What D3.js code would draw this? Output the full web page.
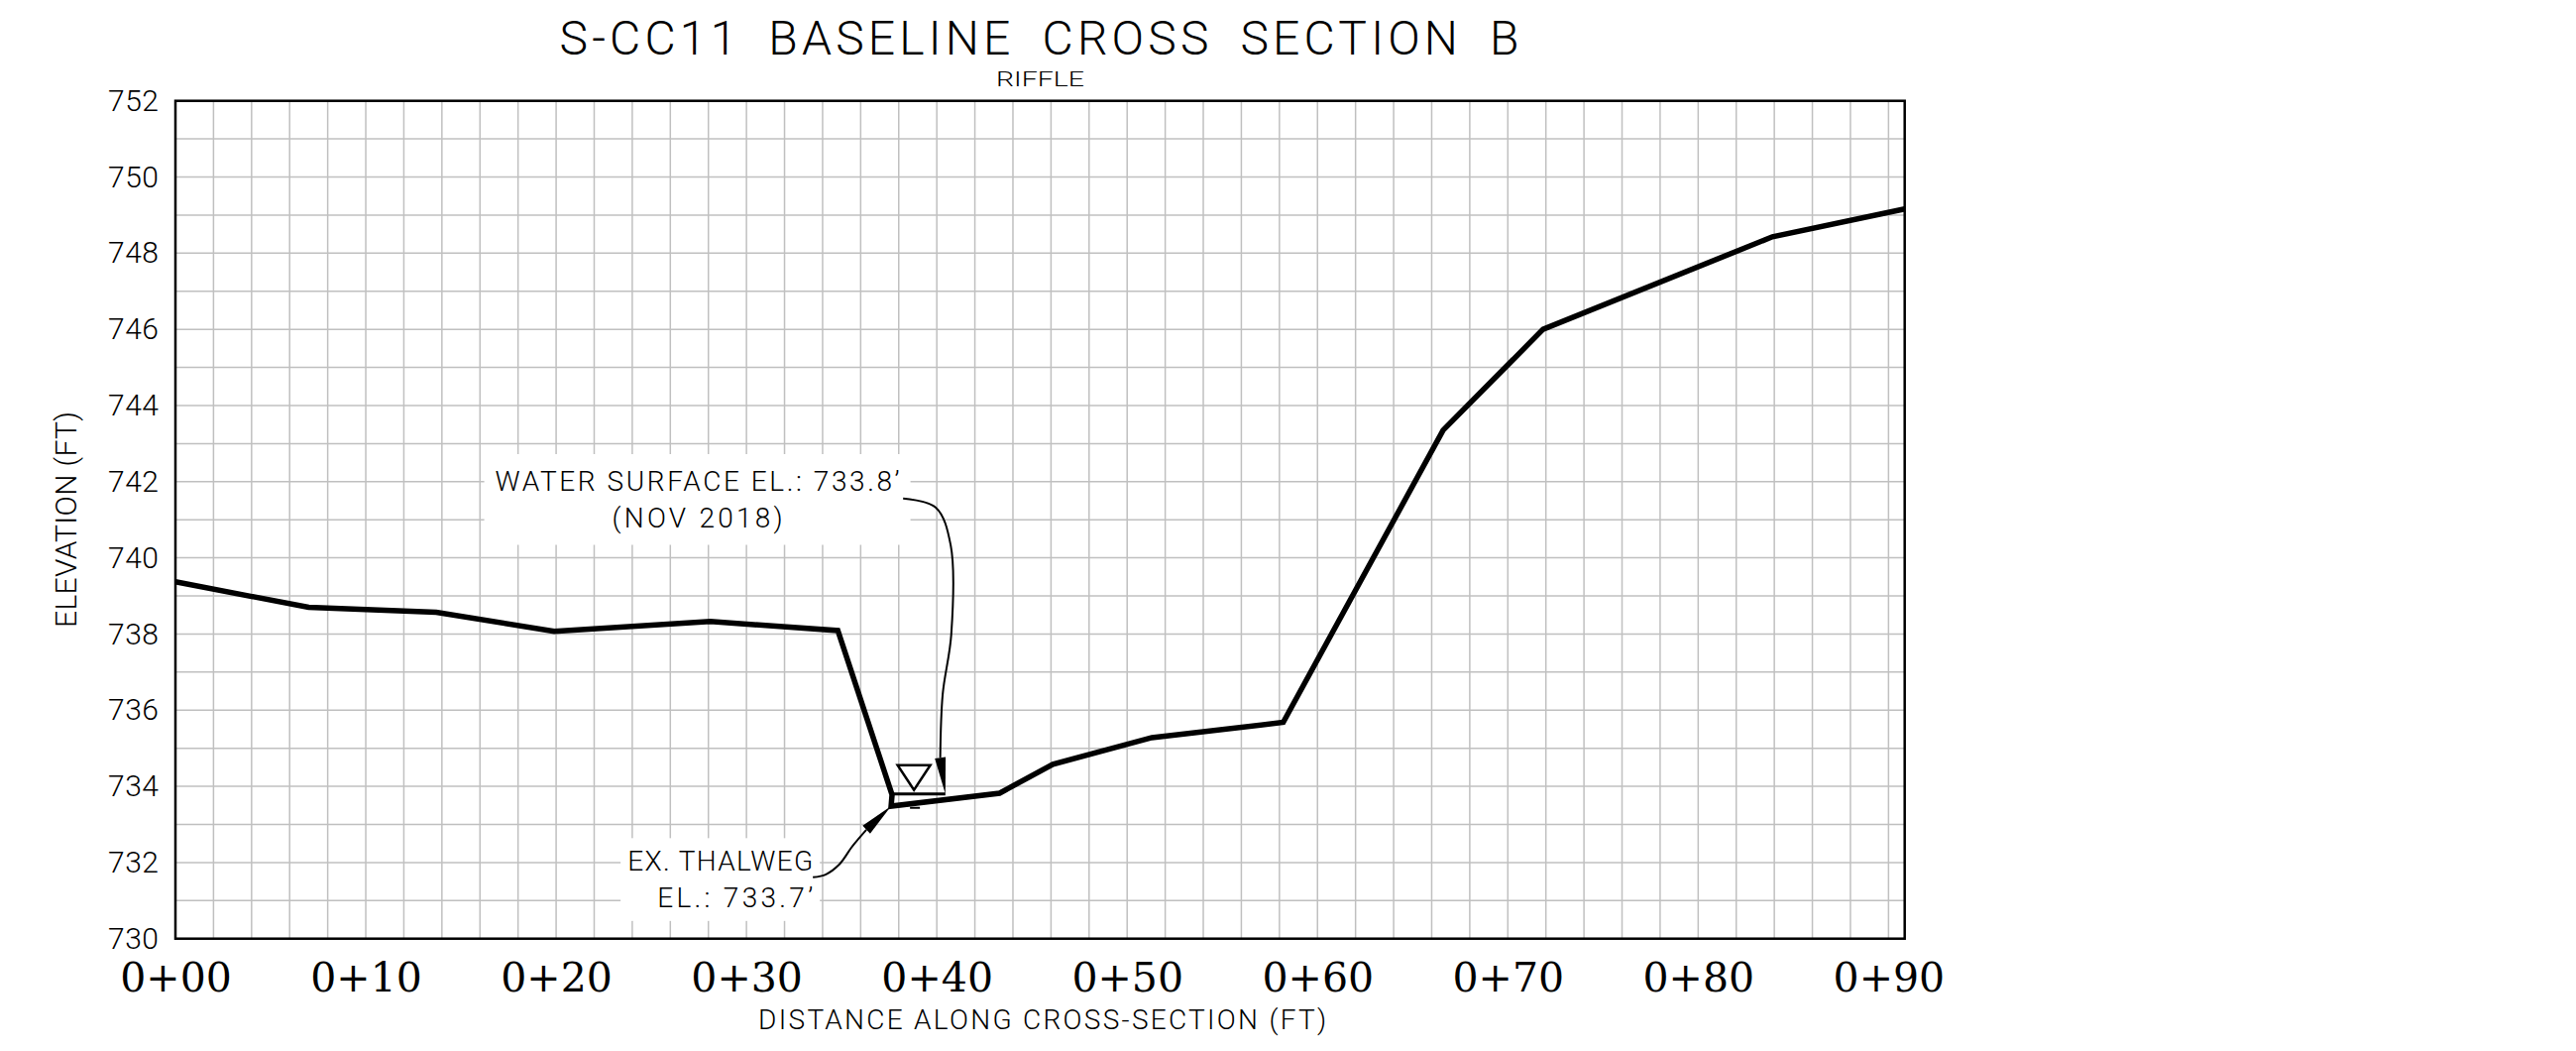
<!DOCTYPE html>
<html>
<head>
<meta charset="utf-8">
<script src="https://cdn.jsdelivr.net/npm/d3@7"></script>
<style>
  body { margin: 0; background: #fff; }
  svg { display: block; }
  .txt { font-family: Roboto, "Liberation Sans", Arial, sans-serif; font-weight: 300; fill: #000; }
</style>
</head>
<body>
<svg id="chart" width="2599" height="1060"></svg>
<script>
// surveyed ground points: station (ft) and elevation (ft)
var stations   = [0, 7.0, 13.7, 19.9, 28.1, 34.8, 37.65, 37.6, 43.3, 46.1, 51.3, 58.2, 66.6, 71.85, 83.9, 90.85];
var elevations = [739.37, 738.70, 738.57, 738.07, 738.33, 738.09, 733.78, 733.48, 733.82, 734.58, 735.28, 735.68, 743.35, 746.0, 748.43, 749.16];

var xTicks = [0, 10, 20, 30, 40, 50, 60, 70, 80, 90];
var xTickLabels = ["0+00", "0+10", "0+20", "0+30", "0+40", "0+50", "0+60", "0+70", "0+80", "0+90"];
var yTicks = [730, 732, 734, 736, 738, 740, 742, 744, 746, 748, 750, 752];

// water surface and thalweg
var wsElev = 733.8;
var wsStations = [37.65, 40.45];
var wsSymbolStation = 38.8;
var thalwegStation = 37.6, thalwegElev = 733.48;

// annotation leaders (station, elevation)
var wsLeader = [[38.23, 741.56], [39.95, 741.32], [40.73, 740.33], [40.76, 737.99], [40.31, 736.42], [40.18, 734.75]];
var thalwegLeader = [[33.49, 731.61], [34.18, 731.69], [34.88, 731.95], [35.57, 732.43], [36.30, 732.86]];

var svg = d3.select("#chart");

var x = d3.scaleLinear().domain([0, d3.max(stations)]).range([177, 1921.7]);
var y = d3.scaleLinear().domain([730, 752]).range([946.7, 101.7]);

// grid
var grid = svg.append("g")
    .attr("stroke", "#c0c0c0")
    .attr("stroke-width", 1.5);

grid.selectAll(".vgrid")
    .data(d3.range(2, 91, 2))
  .enter().append("line")
    .attr("x1", function(d) { return x(d); })
    .attr("x2", function(d) { return x(d); })
    .attr("y1", y(730))
    .attr("y2", y(752));

grid.selectAll(".hgrid")
    .data(d3.range(731, 752, 1))
  .enter().append("line")
    .attr("y1", function(d) { return y(d); })
    .attr("y2", function(d) { return y(d); })
    .attr("x1", x(0))
    .attr("x2", x.range()[1]);

// axes
var yAxis = svg.append("g")
    .attr("transform", "translate(" + x(0) + ",0)")
    .call(d3.axisLeft(y).tickValues(yTicks).tickSize(0).tickPadding(17));
yAxis.select(".domain").remove();
yAxis.selectAll("text")
    .attr("class", "txt")
    .attr("textLength", 51)
    .style("font-size", "30px");

var xAxis = svg.append("g")
    .attr("transform", "translate(0," + y(730) + ")")
    .call(d3.axisBottom(x).tickValues(xTicks)
      .tickFormat(function(d, i) { return xTickLabels[i]; })
      .tickSize(0).tickPadding(24));
xAxis.select(".domain").remove();
xAxis.selectAll("text")
    .style("font-family", "'DejaVu Serif', serif")
    .style("font-size", "41px")
    .attr("fill", "#000");

// frame
svg.append("rect")
    .attr("x", x(0))
    .attr("y", y(752))
    .attr("width", x.range()[1] - x(0))
    .attr("height", y(730) - y(752))
    .attr("fill", "none")
    .attr("stroke", "#000")
    .attr("stroke-width", 2.5);

// labels with white boxes behind them
function noteBlock(lines, px, py, anchor, pad) {
  var g = svg.append("g");
  var box = g.append("rect").attr("fill", "#fff");
  lines.forEach(function(l, i) {
    g.append("text")
        .attr("class", "txt")
        .attr("x", px)
        .attr("y", py + i * 36.5)
        .attr("text-anchor", anchor)
        .attr("textLength", l[1])
        .attr("lengthAdjust", "spacing")
        .style("font-size", "28px")
        .text(l[0]);
  });
  var bb = g.node().getBBox();
  box.attr("x", bb.x - pad).attr("y", bb.y - pad)
     .attr("width", bb.width + 2 * pad).attr("height", bb.height + 2 * pad);
}

noteBlock([["WATER SURFACE EL.: 733.8\u2019", 408], ["(NOV 2018)", 172]],
          x(27.42), y(741.76), "middle", 11);
noteBlock([["EX. THALWEG", 187], ["EL.: 733.7\u2019", 157]],
          x(33.49), y(731.78), "end", 7);

// ground profile
svg.append("path")
    .datum(stations.map(function(s, i) { return [s, elevations[i]]; }))
    .attr("fill", "none")
    .attr("stroke", "#000")
    .attr("stroke-width", 5.5)
    .attr("stroke-linejoin", "miter")
    .attr("d", d3.line()
      .x(function(d) { return x(d[0]); })
      .y(function(d) { return y(d[1]); }));

// water surface line
svg.append("line")
    .attr("x1", x(wsStations[0]))
    .attr("x2", x(wsStations[1]))
    .attr("y1", y(wsElev))
    .attr("y2", y(wsElev))
    .attr("stroke", "#000")
    .attr("stroke-width", 3);

// water surface symbol
var wsx = x(wsSymbolStation), wsy = y(wsElev);
svg.append("path")
    .attr("d", "M" + (wsx - 16.5) + "," + (wsy - 29) + "H" + (wsx + 16.5) +
               "L" + wsx + "," + (wsy - 4) + "Z")
    .attr("fill", "#fff")
    .attr("stroke", "#000")
    .attr("stroke-width", 2.5);
svg.append("line")
    .attr("x1", wsx - 4).attr("x2", wsx + 6)
    .attr("y1", wsy + 14).attr("y2", wsy + 14)
    .attr("stroke", "#000")
    .attr("stroke-width", 2);

// leaders with arrowheads
function leader(pts, tip) {
  var line = d3.line()
      .x(function(d) { return x(d[0]); })
      .y(function(d) { return y(d[1]); })
      .curve(d3.curveCatmullRom);
  svg.append("path")
      .attr("d", line(pts))
      .attr("fill", "none")
      .attr("stroke", "#000")
      .attr("stroke-width", 2);
  var last = pts[pts.length - 1];
  var bx = x(last[0]), by = y(last[1]), tx = x(tip[0]), ty = y(tip[1]);
  var dx = tx - bx, dy = ty - by, len = Math.sqrt(dx * dx + dy * dy);
  var nx = -dy / len * 5.5, ny = dx / len * 5.5;
  svg.append("path")
      .attr("d", "M" + tx + "," + ty + "L" + (bx + nx) + "," + (by + ny) +
                 "L" + (bx - nx) + "," + (by - ny) + "Z")
      .attr("fill", "#000");
}

leader(wsLeader, [wsStations[1], wsElev]);
leader(thalwegLeader, [thalwegStation, thalwegElev]);

// titles
svg.append("text")
    .attr("class", "txt")
    .attr("x", 1048.5).attr("y", 55)
    .attr("text-anchor", "middle")
    .attr("textLength", 968)
    .style("font-size", "48px")
    .style("word-spacing", "12px")
    .text("S-CC11 BASELINE CROSS SECTION B");

svg.append("text")
    .attr("class", "txt")
    .attr("x", 1049.5).attr("y", 87.3)
    .attr("text-anchor", "middle")
    .attr("textLength", 89)
    .attr("lengthAdjust", "spacingAndGlyphs")
    .style("font-size", "20.5px")
    .text("RIFFLE");

svg.append("text")
    .attr("class", "txt")
    .attr("x", 1051.6).attr("y", 1038.3)
    .attr("text-anchor", "middle")
    .attr("textLength", 573)
    .style("font-size", "28px")
    .text("DISTANCE ALONG CROSS-SECTION (FT)");

svg.append("text")
    .attr("class", "txt")
    .attr("transform", "translate(77,524) rotate(-90)")
    .attr("text-anchor", "middle")
    .attr("textLength", 218)
    .style("font-size", "30px")
    .text("ELEVATION (FT)");
</script>
</body>
</html>
